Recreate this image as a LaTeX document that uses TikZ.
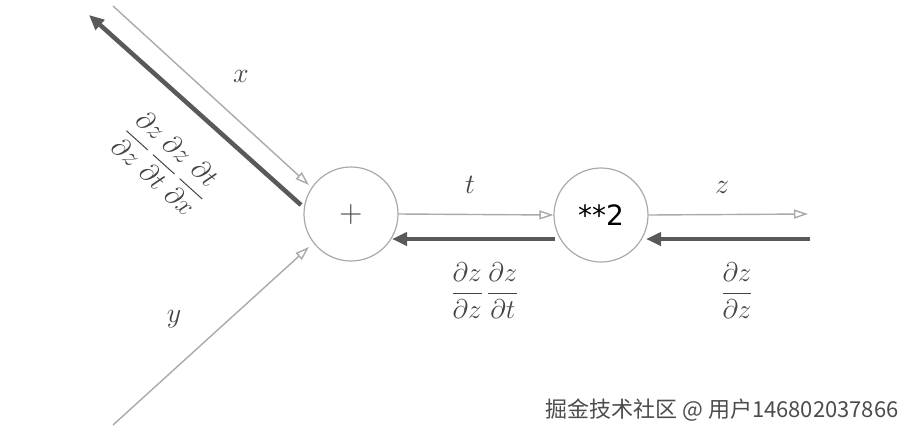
\RequirePackage{fix-cm}
\documentclass[tikz,border=0pt]{standalone}
\usepackage{fontspec}
\usepackage{amsmath}
\newfontfamily\cjk{Noto Sans CJK SC}
\newfontfamily\dvs{DejaVu Sans}
\usetikzlibrary{arrows.meta}
\definecolor{thin}{HTML}{AAAAAA}
\definecolor{thick}{HTML}{595959}
\definecolor{lbl}{HTML}{444444}
\begin{document}
\begin{tikzpicture}[x=1pt,y=-1pt,
  op/.style={circle,draw=thin,line width=1.2pt,minimum size=94pt,inner sep=0pt,fill=white},
  fwd/.style={draw=thin,line width=1.4pt,-{Triangle[open,length=14pt,width=9pt,fill=white]}},
  bwd/.style={draw=thick,line width=4.5pt,-{Triangle[length=15pt,width=13pt]}},
  lab/.style={text=lbl,font=\fontsize{28}{32}\selectfont,inner sep=0pt},
  frac/.style={text=lbl,font=\fontsize{27}{32}\selectfont,inner sep=0pt}]
\useasboundingbox (0,0) rectangle (915,437);
\fill[white] (0,0) rectangle (915,437);
\node[op] (plus) at (351,214) {\color{lbl}\fontsize{32}{36}\selectfont $+$};
\node[op] (sq) at (601,215) {\dvs\fontsize{28}{32}\selectfont **2};
\coordinate (xs) at (113,6);
\coordinate (xe) at (309,185);
\coordinate (xbs) at (301,205);
\coordinate (xbe) at (89,15);
\coordinate (ys) at (113,425);
\coordinate (ye) at (309,247);
\coordinate (ze) at (808,214);
\coordinate (zbs) at (810,239);
\coordinate (tbs) at (555,239);
\coordinate (tbe) at (392,239);
\coordinate (zbe) at (646,239);
\draw[fwd] (xs) -- (xe);
\draw[bwd] (xbs) -- (xbe);
\draw[fwd] (ys) -- (ye);
\draw[fwd] (plus.east) -- (sq.west);
\draw[fwd] (sq.east) -- (ze);
\draw[bwd] (tbs) -- (tbe);
\draw[bwd] (zbs) -- (zbe);
\node[lab] (xl) at (241,76) {$x$};
\node[lab] (yl) at (174,319) {$y$};
\node[lab] (tl) at (470,185) {$t$};
\node[lab] (zl) at (722,187) {$z$};
\node[frac,rotate=-42] (gx) at (166,163) {$\dfrac{\partial z}{\partial z}\,\dfrac{\partial z}{\partial t}\,\dfrac{\partial t}{\partial x}$};
\node[frac] (gt) at (485,291) {$\dfrac{\partial z}{\partial z}\,\dfrac{\partial z}{\partial t}$};
\node[frac] (gz) at (737,291) {$\dfrac{\partial z}{\partial z}$};
\node[text=black!70,font=\cjk\fontsize{22}{25}\selectfont,inner sep=0pt] (wm) at (722,410) {掘金技术社区 @ 用户146802037866};
\end{tikzpicture}
\end{document}
